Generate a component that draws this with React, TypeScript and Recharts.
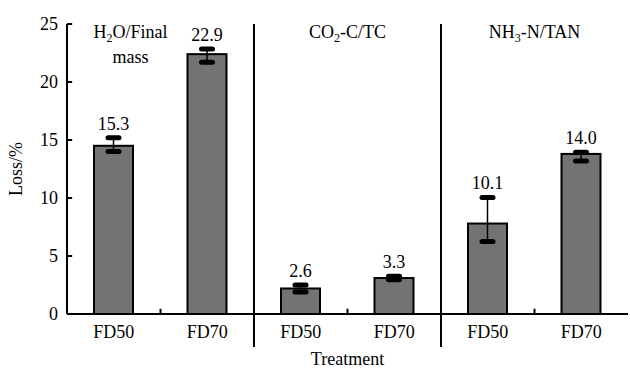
import React from "react";
import {
  BarChart,
  Bar,
  XAxis,
  YAxis,
  ReferenceLine,
  ReferenceDot,
} from "recharts";

const categories = ["FD50", "FD70", "FD50", "FD70", "FD50", "FD70"];
const losses = [14.5, 22.4, 2.2, 3.1, 7.8, 13.8];
const errLow = [14.0, 21.7, 1.9, 2.95, 6.25, 13.2];
const errHigh = [15.2, 22.85, 2.5, 3.25, 10.05, 13.95];
const valueLabels = ["15.3", "22.9", "2.6", "3.3", "10.1", "14.0"];

const yTicks = [0, 5, 10, 15, 20, 25];
const groupBoundaries = [2, 4]; // full separators between panels
const innerBoundaries = [1, 3, 5]; // small tick marks inside panels
const groupTitles = [
  { x: 0.68, y: 24.3, parts: [["H"], ["2", "sub"], ["O/Final"]], second: "mass" },
  { x: 3.0, y: 24.3, parts: [["CO"], ["2", "sub"], ["-C/TC"]] },
  { x: 5.0, y: 24.3, parts: [["NH"], ["3", "sub"], ["-N/TAN"]] },
];

const FONT = "'Liberation Serif', 'Times New Roman', serif";

const data = categories.map((c, i) => ({
  pos: i + 0.5,
  name: c,
  loss: losses[i],
  lo: errLow[i],
  hi: errHigh[i],
  label: valueLabels[i],
}));

function BarWithError(props: any) {
  const { x, y, width, height, payload } = props;
  const unit = height / payload.loss;
  const base = y + height;
  const yHi = base - payload.hi * unit;
  const yLo = base - payload.lo * unit;
  const cx = x + width / 2;
  return (
    <g>
      <rect x={x} y={y} width={width} height={height} fill="#737373" stroke="#000" strokeWidth={2} />
      <line x1={cx} x2={cx} y1={yHi} y2={yLo} stroke="#000" strokeWidth={1.5} />
      <rect x={cx - 8} y={yHi - 2.5} width={16} height={5} rx={2.5} fill="#000" />
      <rect x={cx - 8} y={yLo - 2.5} width={16} height={5} rx={2.5} fill="#000" />
      <text x={cx} y={yHi - 8} textAnchor="middle" fontSize={18} fontFamily={FONT} fill="#000">
        {payload.label}
      </text>
    </g>
  );
}

function TitleLabel(title: any) {
  return (props: any) => {
    const { viewBox } = props;
    const cx = viewBox.x + (viewBox.width || 0) / 2;
    const cy = viewBox.y + (viewBox.height || 0) / 2;
    return (
      <g>
        <text x={cx} y={cy + 6} textAnchor="middle" fontSize={18} fontFamily={FONT} fill="#000">
          {title.parts.map((p: string[], i: number) => {
            const prevSub = i > 0 && title.parts[i - 1][1] === "sub";
            if (p[1] === "sub")
              return (
                <tspan key={i} fontSize={12} dy={4}>
                  {p[0]}
                </tspan>
              );
            return (
              <tspan key={i} dy={prevSub ? -4 : 0}>
                {p[0]}
              </tspan>
            );
          })}
        </text>
        {title.second && (
          <text x={cx} y={cy + 31} textAnchor="middle" fontSize={18} fontFamily={FONT} fill="#000">
            {title.second}
          </text>
        )}
      </g>
    );
  };
}

export default function App() {
  return (
    <div style={{ position: "absolute", left: 0, top: 0, background: "#fff", fontFamily: FONT }}>
      <BarChart width={630} height={370} data={data} margin={{ top: 24, right: 2, bottom: 0, left: 0 }}>
        <XAxis
          dataKey="pos"
          type="number"
          domain={[0, 6]}
          ticks={data.map((d) => d.pos)}
          tickFormatter={(_v: number, i: number) => categories[i]}
          interval={0}
          tickLine={false}
          tickSize={0}
          tickMargin={11}
          height={56}
          axisLine={{ stroke: "#000", strokeWidth: 2 }}
          tick={{ fontSize: 18, fill: "#000", fontFamily: FONT }}
          label={{ value: "Treatment", position: "insideBottom", offset: 5, fontSize: 18, fill: "#000", fontFamily: FONT }}
        />
        <YAxis
          type="number"
          domain={[0, 25]}
          ticks={yTicks}
          interval={0}
          width={67}
          tickLine={false}
          tickSize={0}
          tickMargin={9}
          axisLine={{ stroke: "#000", strokeWidth: 2 }}
          tick={{ fontSize: 18, fill: "#000", fontFamily: FONT }}
          label={{
            content: (p: any) => {
              const vb = p.viewBox;
              const cx = vb.x + 16;
              const cy = vb.y + vb.height / 2;
              return (
                <text
                  x={cx}
                  y={cy}
                  transform={`rotate(-90, ${cx}, ${cy})`}
                  textAnchor="middle"
                  dominantBaseline="central"
                  fontSize={18}
                  fontFamily={FONT}
                  fill="#000"
                >
                  Loss/%
                </text>
              );
            },
          }}
        />
        <Bar dataKey="loss" barSize={39} shape={<BarWithError />} isAnimationActive={false} />
        {yTicks.map((v) => (
          <ReferenceLine
            key={"yt" + v}
            segment={[{ x: 0, y: v }, { x: 0.055, y: v }]}
            stroke="#000"
            strokeWidth={2}
            ifOverflow="visible"
          />
        ))}
        {innerBoundaries.map((b) => (
          <ReferenceLine
            key={"ib" + b}
            segment={[{ x: b, y: 0 }, { x: b, y: 0.45 }]}
            stroke="#000"
            strokeWidth={2}
            ifOverflow="visible"
          />
        ))}
        {groupBoundaries.map((b) => (
          <ReferenceLine
            key={"gb" + b}
            segment={[{ x: b, y: -2.85 }, { x: b, y: 25 }]}
            stroke="#000"
            strokeWidth={2}
            ifOverflow="visible"
          />
        ))}
        {groupTitles.map((t, i) => (
          <ReferenceDot key={"t" + i} x={t.x} y={t.y} r={0} fill="none" stroke="none" ifOverflow="visible" label={{ content: TitleLabel(t) }} />
        ))}
      </BarChart>
    </div>
  );
}
